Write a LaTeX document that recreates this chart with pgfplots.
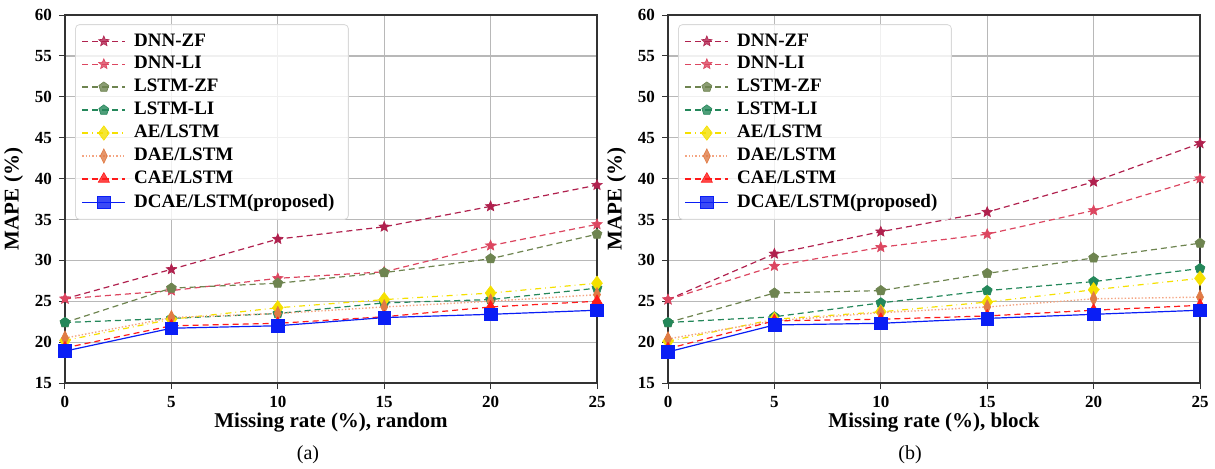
\documentclass[border=0pt]{standalone}
\usepackage{fontspec}
\setmainfont{Liberation Serif}
\usepackage{pgfplots}
\pgfplotsset{compat=1.18}
\usetikzlibrary{plotmarks}

\definecolor{cDNNZF}{HTML}{B0214E}
\definecolor{cDNNLI}{HTML}{DC4660}
\definecolor{cLSTMZF}{HTML}{6E8450}
\definecolor{cLSTMLI}{HTML}{24875A}
\definecolor{cAE}{HTML}{F5E000}
\definecolor{cDAEl}{HTML}{F4A582}
\definecolor{cDAE}{HTML}{E07B45}
\definecolor{cCAE}{HTML}{FF1A1A}
\definecolor{cDCAE}{HTML}{0A1EF5}
\definecolor{gridc}{HTML}{B8B8B8}

% filled five-pointed star
\pgfdeclareplotmark{fstar}{%
  \pgfpathmoveto{\pgfpointpolar{90}{\pgfplotmarksize}}%
  \pgfpathlineto{\pgfpointpolar{126}{0.45\pgfplotmarksize}}%
  \pgfpathlineto{\pgfpointpolar{162}{\pgfplotmarksize}}%
  \pgfpathlineto{\pgfpointpolar{198}{0.45\pgfplotmarksize}}%
  \pgfpathlineto{\pgfpointpolar{234}{\pgfplotmarksize}}%
  \pgfpathlineto{\pgfpointpolar{270}{0.45\pgfplotmarksize}}%
  \pgfpathlineto{\pgfpointpolar{306}{\pgfplotmarksize}}%
  \pgfpathlineto{\pgfpointpolar{342}{0.45\pgfplotmarksize}}%
  \pgfpathlineto{\pgfpointpolar{18}{\pgfplotmarksize}}%
  \pgfpathlineto{\pgfpointpolar{54}{0.45\pgfplotmarksize}}%
  \pgfpathclose
  \pgfusepathqfillstroke
}

\pgfplotsset{
  panel/.style={
    width=266pt, height=184pt, scale only axis,
    anchor=south west,
    xmin=0, xmax=25, ymin=15, ymax=60,
    xtick={0,5,...,25}, ytick={15,20,...,60},
    grid=major,
    major grid style={gridc, line width=0.6pt},
    axis line style={black!80, line width=0.6pt},
    tick align=outside, tick pos=left,
    major tick length=3pt,
    tick style={black!80, line width=0.5pt},
    /pgf/number format/assume math mode=true,
    ticklabel style={font=\bfseries\fontsize{8.5}{9}\selectfont},
    label style={font=\bfseries\fontsize{10.5}{12}\selectfont},
    ylabel={MAPE (\%)},
    ylabel style={yshift=-1pt},
    xlabel style={yshift=4pt},
    legend style={
      at={(0.019,0.975)}, anchor=north west,
      font=\bfseries\fontsize{9.5}{11.5}\selectfont,
      draw=black!15, rounded corners=2pt,
      fill=white, fill opacity=0.8, text opacity=1,
      row sep=-0.3pt, inner xsep=3pt, inner ysep=2.5pt,
      nodes={inner xsep=4pt},
    },
    legend cell align=left,
    legend image code/.code={%
      \draw[mark repeat=2, mark phase=2] plot coordinates {(0cm,0cm) (0.38cm,0cm) (0.76cm,0cm)};%
    },
  },
  sDNNZF/.style={cDNNZF, densely dashed, line width=0.6pt, mark=fstar, mark size=2.7pt, mark options={solid, draw=cDNNZF, fill=cDNNZF, line width=0.3pt}},
  sDNNLI/.style={cDNNLI, densely dashed, line width=0.6pt, mark=fstar, mark size=2.7pt, mark options={solid, draw=cDNNLI, fill=cDNNLI, line width=0.3pt}},
  sLSTMZF/.style={cLSTMZF, densely dashed, line width=0.6pt, mark=pentagon*, mark size=2.6pt, mark options={solid, draw=cLSTMZF, fill=cLSTMZF, line width=0.3pt}},
  sLSTMLI/.style={cLSTMLI, densely dashed, line width=0.6pt, mark=pentagon*, mark size=2.6pt, mark options={solid, draw=cLSTMLI, fill=cLSTMLI, line width=0.3pt}},
  sAE/.style={cAE, dash dot, line width=0.6pt, mark=diamond*, mark size=3.6pt, mark options={solid, draw=cAE, fill=cAE, line width=0.3pt}},
  sDAE/.style={cDAEl, densely dotted, line width=0.7pt, mark=diamond*, mark size=3.6pt, mark options={solid, draw=cDAE, fill=cDAE, xscale=0.65, line width=0.3pt}},
  sCAE/.style={cCAE, densely dashed, line width=0.6pt, mark=triangle*, mark size=3.2pt, mark options={solid, draw=cCAE, fill=cCAE, line width=0.3pt}},
  sDCAE/.style={cDCAE, solid, line width=0.6pt, mark=square*, mark size=3.2pt, mark options={solid, draw=cDCAE, fill=cDCAE, line width=0.3pt}},
}

\begin{document}
\begin{tikzpicture}

% (a) random missing
\begin{axis}[panel, at={(0pt,0pt)}, xlabel={Missing rate (\%), random}]
\addplot[sDNNZF] coordinates {(0,25.3) (5,28.9) (10,32.6) (15,34.1) (20,36.6) (25,39.2)};
\addlegendentry{DNN-ZF}
\addplot[sDNNLI] coordinates {(0,25.3) (5,26.3) (10,27.8) (15,28.6) (20,31.8) (25,34.4)};
\addlegendentry{DNN-LI}
\addplot[sLSTMZF] coordinates {(0,22.4) (5,26.6) (10,27.2) (15,28.5) (20,30.2) (25,33.2)};
\addlegendentry{LSTM-ZF}
\addplot[sLSTMLI] coordinates {(0,22.4) (5,22.9) (10,23.5) (15,24.8) (20,25.2) (25,26.6)};
\addlegendentry{LSTM-LI}
\addplot[sAE] coordinates {(0,20.2) (5,22.8) (10,24.2) (15,25.2) (20,26.0) (25,27.2)};
\addlegendentry{AE/LSTM}
\addplot[sDAE] coordinates {(0,20.5) (5,23.0) (10,23.5) (15,24.3) (20,25.0) (25,25.8)};
\addlegendentry{DAE/LSTM}
\addplot[sCAE] coordinates {(0,19.3) (5,22.0) (10,22.3) (15,23.1) (20,24.3) (25,25.0)};
\addlegendentry{CAE/LSTM}
\addplot[sDCAE] coordinates {(0,18.9) (5,21.7) (10,22.0) (15,23.0) (20,23.4) (25,23.9)};
\addlegendentry{DCAE/LSTM(proposed)}
\end{axis}

% (b) block missing
\begin{axis}[panel, at={(301.5pt,0pt)}, xlabel={Missing rate (\%), block}]
\addplot[sDNNZF] coordinates {(0,25.2) (5,30.8) (10,33.5) (15,35.9) (20,39.6) (25,44.3)};
\addlegendentry{DNN-ZF}
\addplot[sDNNLI] coordinates {(0,25.2) (5,29.3) (10,31.6) (15,33.2) (20,36.1) (25,40.0)};
\addlegendentry{DNN-LI}
\addplot[sLSTMZF] coordinates {(0,22.4) (5,26.0) (10,26.3) (15,28.4) (20,30.3) (25,32.1)};
\addlegendentry{LSTM-ZF}
\addplot[sLSTMLI] coordinates {(0,22.4) (5,23.1) (10,24.8) (15,26.3) (20,27.4) (25,29.0)};
\addlegendentry{LSTM-LI}
\addplot[sAE] coordinates {(0,20.1) (5,22.8) (10,23.7) (15,24.9) (20,26.4) (25,27.8)};
\addlegendentry{AE/LSTM}
\addplot[sDAE] coordinates {(0,20.4) (5,22.6) (10,23.6) (15,24.3) (20,25.3) (25,25.5)};
\addlegendentry{DAE/LSTM}
\addplot[sCAE] coordinates {(0,19.2) (5,22.6) (10,22.8) (15,23.2) (20,23.9) (25,24.5)};
\addlegendentry{CAE/LSTM}
\addplot[sDCAE] coordinates {(0,18.8) (5,22.1) (10,22.3) (15,22.9) (20,23.4) (25,23.9)};
\addlegendentry{DCAE/LSTM(proposed)}
\end{axis}

\node[font=\fontsize{10}{12}\selectfont] at (121.5pt,-36pt) {(a)};
\node[font=\fontsize{10}{12}\selectfont] at (422.5pt,-36pt) {(b)};

\pgfresetboundingbox
\path[use as bounding box] (-32.5pt,-42.5pt) rectangle (575pt,191.5pt);
\end{tikzpicture}
\end{document}
